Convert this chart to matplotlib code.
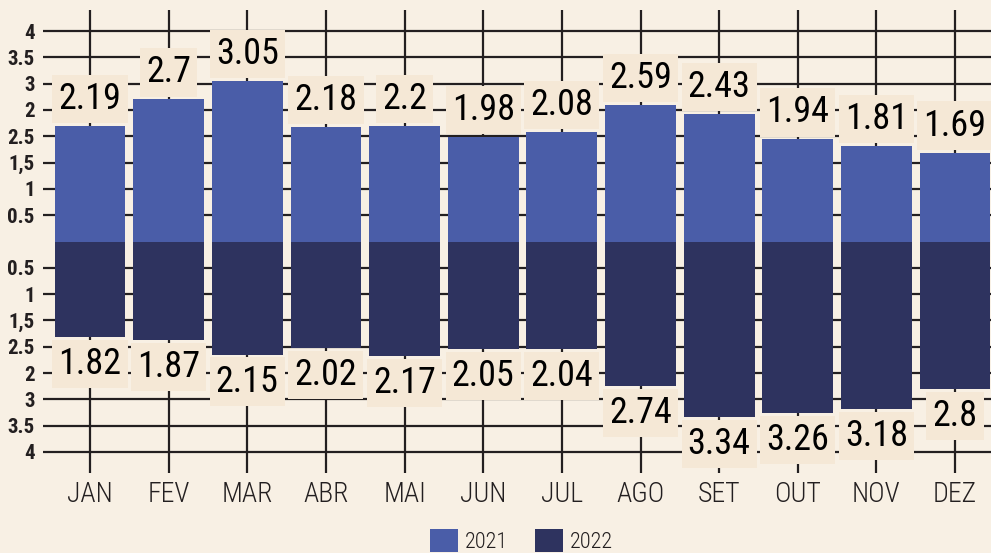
import matplotlib
matplotlib.use("Agg")
import matplotlib.pyplot as plt
from matplotlib import font_manager as fm
from matplotlib.patches import Patch

months = ['JAN', 'FEV', 'MAR', 'ABR', 'MAI', 'JUN', 'JUL', 'AGO', 'SET', 'OUT', 'NOV', 'DEZ']
v2021 = [2.19, 2.7, 3.05, 2.18, 2.2, 1.98, 2.08, 2.59, 2.43, 1.94, 1.81, 1.69]
v2022 = [1.82, 1.87, 2.15, 2.02, 2.17, 2.05, 2.04, 2.74, 3.34, 3.26, 3.18, 2.8]
ytick_pos = [4, 3.5, 3, 2.5, 2, 1.5, 1, 0.5, -0.5, -1, -1.5, -2, -2.5, -3, -3.5, -4]
ytick_lab = ['4', '3.5', '3', '2', '2.5', '1,5', '1', '0.5',
             '0.5', '1', '1,5', '2.5', '2', '3', '3.5', '4']
series_names = ['2021', '2022']

BG = '#f8f0e4'
C21 = '#4a5da8'
C22 = '#2e335f'
BOX = '#f5e8d6'
INK = '#231f20'

# choose a condensed font if available
ttf = fm.fontManager.ttflist
names = {f.name for f in ttf}
family = None
for cand in ['Roboto Condensed', 'Liberation Sans Narrow', 'Archivo Narrow']:
    if cand in names:
        family = cand
        break
if family is None:
    family = 'Liberation Sans'

fp_val = fm.FontProperties(family=family, weight='normal', size=26)
fp_ytk = fm.FontProperties(family=family, weight='bold', size=15)
fp_xtk = fm.FontProperties(family=family, weight='light', size=20)
fp_leg = fm.FontProperties(family=family, weight='light', size=16)

fig = plt.figure(figsize=(9.91, 5.53), dpi=100, facecolor=BG)
ax = fig.add_axes([43 / 991, 80 / 553, 1 - 43 / 991, 463 / 553])
ax.set_facecolor(BG)

x = list(range(len(months)))
neg2022 = [-v for v in v2022]
ax.bar(x, v2021, width=0.9, color=C21, zorder=3)
ax.bar(x, neg2022, width=0.9, color=C22, zorder=3)

ax.set_xlim(-0.598, 11.457)
ax.set_ylim(-4.4, 4.4)

ax.set_yticks(ytick_pos)
ax.set_yticklabels(ytick_lab)
ax.set_xticks(x)
ax.set_xticklabels(months)
for lab in ax.get_yticklabels():
    lab.set_fontproperties(fp_ytk)
    lab.set_color(INK)
for lab in ax.get_xticklabels():
    lab.set_fontproperties(fp_xtk)
    lab.set_color(INK)
ax.tick_params(axis='both', length=0)
ax.tick_params(axis='y', pad=6)
ax.tick_params(axis='x', pad=6)
ax.grid(True, color=INK, linewidth=1.6, zorder=1)
ax.set_axisbelow(True)
for s in ax.spines.values():
    s.set_visible(False)

bbox = dict(boxstyle='square,pad=0.17', facecolor=BOX, edgecolor='none')
for xi, v in zip(x, v2021):
    ax.annotate(f'{v:g}', (xi, v), xytext=(0, 9), textcoords='offset pixels',
                ha='center', va='bottom', fontproperties=fp_val,
                color='black', bbox=bbox, zorder=5)
for xi, v in zip(x, neg2022):
    ax.annotate(f'{-v:g}', (xi, v), xytext=(0, -9), textcoords='offset pixels',
                ha='center', va='top', fontproperties=fp_val,
                color='black', bbox=bbox, zorder=5)

handles = [Patch(facecolor=C21, edgecolor='none'), Patch(facecolor=C22, edgecolor='none')]
leg = fig.legend(handles, series_names, loc='lower left', bbox_to_anchor=(430 / 991, 0.0),
                 ncol=2, frameon=False, prop=fp_leg, handlelength=1.27, handleheight=1.27,
                 columnspacing=1.2, handletextpad=0.3, borderpad=0, borderaxespad=0)
for t in leg.get_texts():
    t.set_color(INK)

fig.savefig('out.png', dpi=100, facecolor=BG)
